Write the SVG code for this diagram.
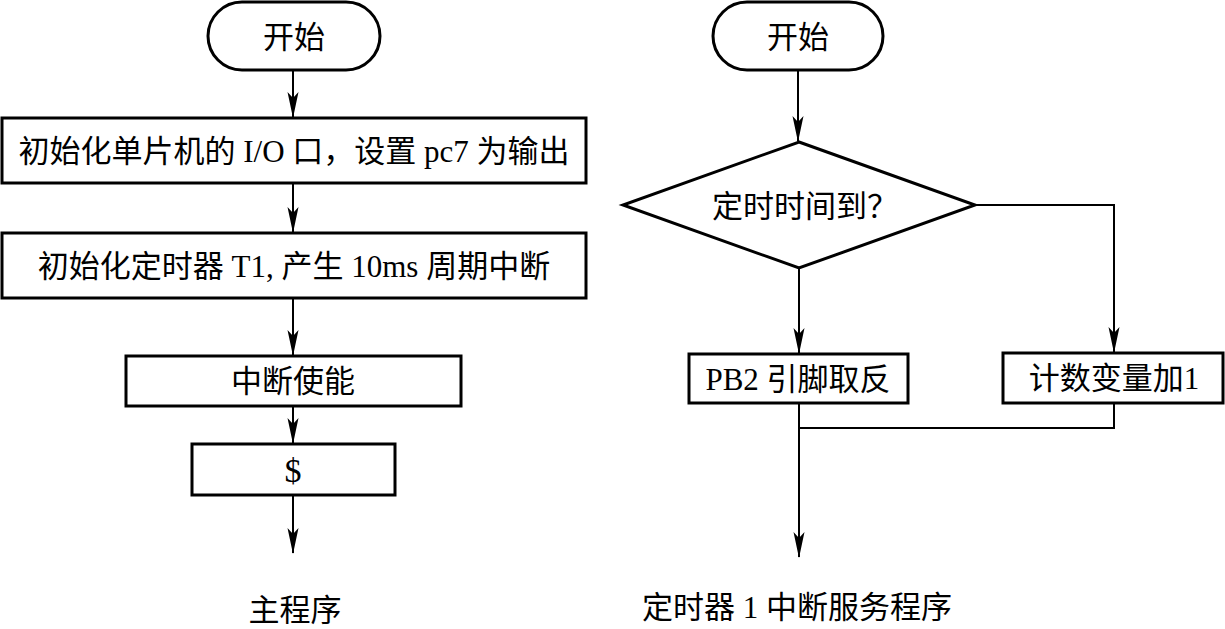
<svg xmlns="http://www.w3.org/2000/svg" width="1225" height="629" viewBox="0 0 1225 629">
<defs>
<style>
.box{fill:#fff;stroke:#000;stroke-width:3}
.t{font-family:"Liberation Serif","Noto Sans CJK SC",serif;font-size:31px;fill:#000;text-anchor:middle;dominant-baseline:central}
.c{fill:none;stroke:#000;stroke-width:2}
.a{marker-end:url(#arr)}
</style>
<marker id="arr" markerWidth="26" markerHeight="12" viewBox="0 0 26 12" refX="25" refY="6" orient="auto" markerUnits="userSpaceOnUse">
<path d="M0,0.5 L26,6 L0,11.5 L6,6 z" fill="#000"/>
</marker>
</defs>
<rect width="1225" height="629" fill="#fff"/>
<g id="connectors">
<path class="c a" d="M293,70 V117"/>
<path class="c a" d="M293,183 V232"/>
<path class="c a" d="M293,298 V355"/>
<path class="c a" d="M293,406 V443"/>
<path class="c a" d="M293,495 V553"/>
<path class="c a" d="M798,70 V141"/>
<path class="c a" d="M799,268 V353"/>
<path class="c a" d="M975,205 H1114 V352"/>
<path class="c" d="M1114,403 V428 H799"/>
<path class="c a" d="M799,403 V557"/>
</g>
<g id="start1"><rect class="box" x="208" y="2" width="172" height="68" rx="34" ry="34"/><text class="t" x="294" y="37">开始</text></g>
<g id="init-io"><rect class="box" x="2" y="118" width="584" height="65"/><text class="t" x="294" y="151">初始化单片机的 I/O 口，设置 pc7 为输出</text></g>
<g id="init-timer"><rect class="box" x="2" y="233" width="584" height="65"/><text class="t" x="294" y="266">初始化定时器 T1, 产生 10ms  周期中断</text></g>
<g id="int-enable"><rect class="box" x="126" y="356" width="335" height="50"/><text class="t" x="293" y="381">中断使能</text></g>
<g id="dollar"><rect class="box" x="192" y="444" width="203" height="51"/><text class="t" x="293" y="470" style="font-size:34px">$</text></g>
<g id="start2"><rect class="box" x="713" y="2" width="170" height="68" rx="34" ry="34"/><text class="t" x="798" y="37">开始</text></g>
<g id="decision"><polygon class="box" points="799,142 975,205 799,268 623,205"/><text class="t" x="805" y="206">定时时间到？</text></g>
<g id="pb2"><rect class="box" x="689" y="354" width="219" height="49"/><text class="t" x="798" y="379">PB2 引脚取反</text></g>
<g id="count"><rect class="box" x="1003" y="353" width="220" height="50"/><text class="t" x="1114" y="378">计数变量加1</text></g>
<g id="label-main"><text class="t" x="295" y="610">主程序</text></g>
<g id="label-isr"><text class="t" x="797" y="607">定时器 1 中断服务程序</text></g>
</svg>
